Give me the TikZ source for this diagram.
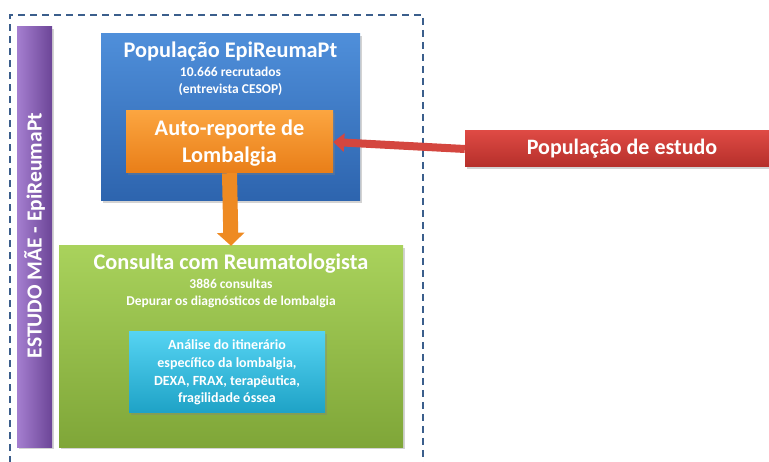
\documentclass[tikz,border=0pt]{standalone}
\usepackage{fontspec}
\setmainfont{Carlito}
\usetikzlibrary{shadows,arrows.meta}
\definecolor{dashc}{HTML}{3B5E8C}
\definecolor{blueT}{HTML}{4F8FDA}
\definecolor{blueB}{HTML}{2D64AE}
\definecolor{orT}{HTML}{FBA540}
\definecolor{orB}{HTML}{E97E18}
\definecolor{grT}{HTML}{A9D25C}
\definecolor{grB}{HTML}{7FA638}
\definecolor{cyT}{HTML}{55D3F2}
\definecolor{cyB}{HTML}{1EA2C6}
\definecolor{rdT}{HTML}{DE4A44}
\definecolor{rdB}{HTML}{B52F2A}
\definecolor{puL}{HTML}{A57FD0}
\definecolor{puR}{HTML}{6C4597}
\definecolor{arrO}{HTML}{EE8A22}
\definecolor{arrR}{HTML}{D4463F}
\begin{document}
\begin{tikzpicture}[x=1pt,y=-1pt,
  box/.style={inner sep=0pt, draw=none, drop shadow={shadow xshift=2pt,shadow yshift=-2pt,opacity=0.35}},
  ttl/.style={text=white, font=\bfseries\fontsize{22.3}{27}\selectfont, inner sep=0pt},
  sub/.style={text=white, font=\bfseries\fontsize{13.5}{17}\selectfont, inner sep=0pt, align=center}]
\useasboundingbox (0,0) rectangle (769,462);
% dashed frame
\draw[dashc, line width=1.6pt, dash pattern=on 7pt off 5pt] (10,475) -- (10,15) -- (423,15) -- (423,475);
% purple bar
\node[box, minimum width=35pt, minimum height=420pt, left color=puL, right color=puR] (bar) at (34.5,237) {};
\node[rotate=90, text=white, font=\bfseries\fontsize{21.5}{24}\selectfont] (bartext) at (34.5,235.5) {ESTUDO MÃE - EpiReumaPt};
% blue box
\node[box, minimum width=259pt, minimum height=167pt, top color=blueT, bottom color=blueB] (blue) at (230.5,117.5) {};
\node[ttl] (bluet) at (230.5,52) {População EpiReumaPt};
\node[sub] (blues) at (230.5,81.5) {10.666 recrutados\\(entrevista CESOP)};
% orange box
\node[box, minimum width=207pt, minimum height=62pt, top color=orT, bottom color=orB] (orange) at (229.5,142) {};
\node[ttl, align=center] (oranget) at (229.5,143.5) {Auto-reporte de\\Lombalgia};
% green box
\node[box, minimum width=344pt, minimum height=201pt, top color=grT, bottom color=grB] (green) at (231,346.5) {};
\node[ttl] (greent) at (231,264) {Consulta com Reumatologista};
\node[sub] (greens) at (231,293.5) {3886 consultas\\Depurar os diagnósticos de lombalgia};
% cyan box
\node[box, minimum width=196pt, minimum height=81pt, top color=cyT, bottom color=cyB] (cyan) at (227,372.5) {};
\node[sub, font=\bfseries\fontsize{14}{17.7}\selectfont] (cyant) at (227,372.5) {Análise do itinerário\\específico da lombalgia,\\DEXA, FRAX, terapêutica,\\fragilidade óssea};
% red box
\node[box, minimum width=314pt, minimum height=36pt, top color=rdT, bottom color=rdB] (red) at (622,149) {};
\node[ttl, font=\bfseries\fontsize{22}{24}\selectfont] (redt) at (red.center) {População de estudo};
% arrows
\draw[arrO, line width=15pt, -{Triangle[width=27pt,length=13pt]}] (orange.south) -- (green.north);
\draw[arrR, line width=8pt, -{Triangle[width=18pt,length=11pt]}] (red.west) -- (orange.east);
\end{tikzpicture}
\end{document}
